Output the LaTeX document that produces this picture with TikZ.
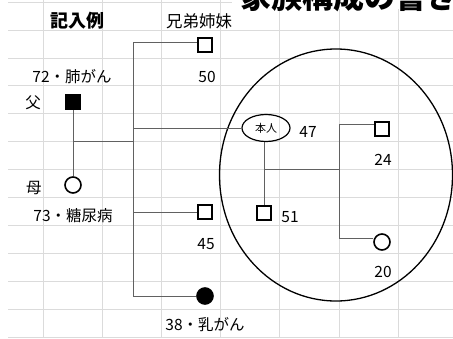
\documentclass[tikz,border=0pt]{standalone}
\usepackage{fontspec}
\setmainfont{Noto Sans CJK JP}
\usepackage{tikz}
\usetikzlibrary{calc,shapes}

\begin{document}
\begin{tikzpicture}[x=1pt, y=-1pt, inner sep=0pt,
		cell/.style={draw=black!14, line width=0.8pt},
		box/.style={rectangle, draw=black, line width=1.6pt, minimum size=14.5pt},
		dot/.style={circle, draw=black, line width=1.6pt, minimum size=16pt},
		link/.style={-, draw=black!62, line width=1pt},
		lbl/.style={font=\fontsize{15.5}{15.5}\selectfont}]
		\useasboundingbox (0,0) rectangle (453,338);

		\foreach \r in {0,...,12}
			\draw[cell] (8,{2.1+27.9*\r}) -- (453,{2.1+27.9*\r});
		\foreach \c in {43,102.2,161.4,220.6,279.8,339,398.2}
			\draw[cell] (\c,0) -- (\c,338);

		\fill[white] (232,0) rectangle (453,9);
		\node[anchor=base west, font=\fontsize{31}{31}\selectfont\bfseries](title) at (240,8) {家族構成の書き};

		\node[ellipse, draw=black, line width=1.3pt, minimum width=233pt, minimum height=252pt](O) at (336,175) {};

		\node[box, fill=black](F) at (73,102) {};
		\node[dot](M) at (73,185) {};

		\node[box](B1) at (205,45) {};
		\node[box](B2) at (205,212) {};
		\node[dot, fill=black](Z) at (205,296) {};

		\node[ellipse, draw=black, line width=1.2pt, minimum width=48pt, minimum height=27pt, font=\fontsize{11}{11}\selectfont](H) at (266,128) {本人};
		\node[box](W) at (264,213) {};

		\node[box](C1) at (382,129) {};
		\node[dot](C2) at (382,242) {};

		\coordinate (P) at (73,141);
		\coordinate (S1) at (133,42);
		\coordinate (S2) at (133,296);
		\coordinate (S3) at (133,128);
		\coordinate (S4) at (133,212);
		\coordinate (K1) at (264,169);
		\coordinate (K2) at (339,169);
		\coordinate (T1) at (339,124);
		\coordinate (T2) at (339,238);

		\draw[link](F) edge (M);
		\draw[link](P) edge (P -| S1);
		\draw[link](S1) edge (S2);

		\draw[link](S1) edge (S1 -| B1.west);
		\draw[link](S3) edge (H);
		\draw[link](S4) edge (B2);
		\draw[link](S2) edge (Z);

		\draw[link](H.south -| W) edge (W);
		\draw[link](K1) edge (K2);
		\draw[link](T1) edge (T2);
		\draw[link](T1) edge (T1 -| C1.west);
		\draw[link](T2) edge (T2 -| C2.west);

		\node[font=\fontsize{18}{18}\selectfont\bfseries](ex) at (77,21) {記入例};
		\node[lbl, font=\fontsize{16.5}{16.5}\selectfont](sib) at (199,21) {兄弟姉妹};
		\node[lbl](fa) at (33,103) {父};
		\node[lbl](mo) at (34,188) {母};
		\node[lbl](faTxt) at (72,77) {72・肺がん};
		\node[lbl](moTxt) at (73,216) {73・糖尿病};
		\node[lbl](b1Txt) at (207,77) {50};
		\node[lbl](b2Txt) at (206,244) {45};
		\node[lbl](zTxt) at (205,325) {38・乳がん};
		\node[lbl](hTxt) at (308,132) {47};
		\node[lbl](wTxt) at (290,217) {51};
		\node[lbl](c1Txt) at (383,160) {24};
		\node[lbl](c2Txt) at (383,272) {20};
	\end{tikzpicture}
\end{document}
